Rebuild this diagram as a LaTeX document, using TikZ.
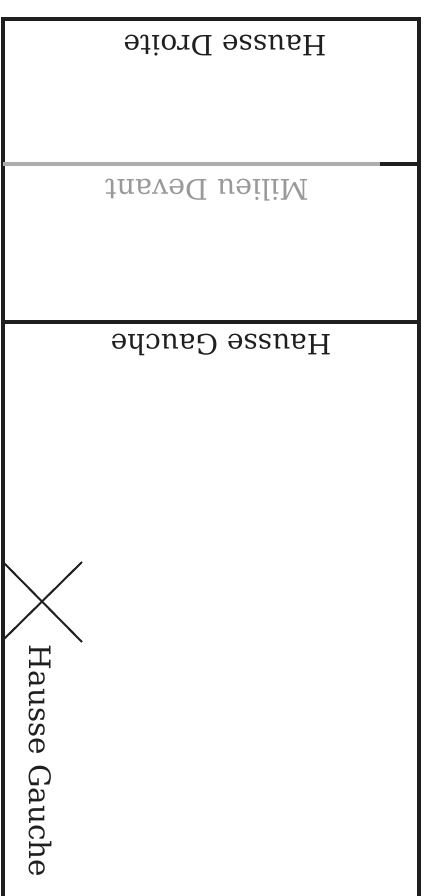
\documentclass[tikz,border=0pt]{standalone}
\usepackage{fontspec}
\setmainfont{DejaVu Serif}
\begin{document}
\begin{tikzpicture}[x=1pt,y=-1pt,
  wall/.style={line width=3.2pt,black!88},
  graywall/.style={line width=3.2pt,black!32},
  lbl/.style={font=\fontsize{28}{32}\selectfont,text=black!88,inner sep=0pt},
  vlbl/.style={font=\fontsize{29.5}{34}\selectfont,text=black!88,inner sep=0pt},
  graylbl/.style={font=\fontsize{28.5}{32}\selectfont,text=black!40,inner sep=0pt}]
\useasboundingbox (0,0) rectangle (432,896);
\coordinate (bl) at (3,900);
\coordinate (tl) at (3,19);
\coordinate (tr) at (419,19);
\coordinate (br) at (419,900);
\coordinate (gl) at (3,164);
\coordinate (gm) at (380,164);
\coordinate (gr) at (419,164);
\coordinate (ml) at (3,322);
\coordinate (mr) at (419,322);
\draw[wall,line join=miter] (bl) -- (tl) -- (tr) -- (br);
\draw[graywall] (gl) -- (gm);
\draw[wall] (gm) -- (gr);
\draw[wall] (ml) -- (mr);
\coordinate (x1) at (3,562);
\coordinate (x2) at (82,642);
\coordinate (x3) at (3,640);
\coordinate (x4) at (82,562);
\draw[line width=2pt,black!88] (x1) -- (x2);
\draw[line width=2pt,black!88] (x3) -- (x4);
\node[lbl,rotate=180] (hd) at (225,46) {Hausse Droite};
\node[graylbl,rotate=180] (md) at (207,190) {Milieu Devant};
\node[lbl,rotate=180] (hg) at (221,345) {Hausse Gauche};
\node[vlbl,rotate=-90] (hgv) at (40,761) {Hausse Gauche};
\end{tikzpicture}
\end{document}
